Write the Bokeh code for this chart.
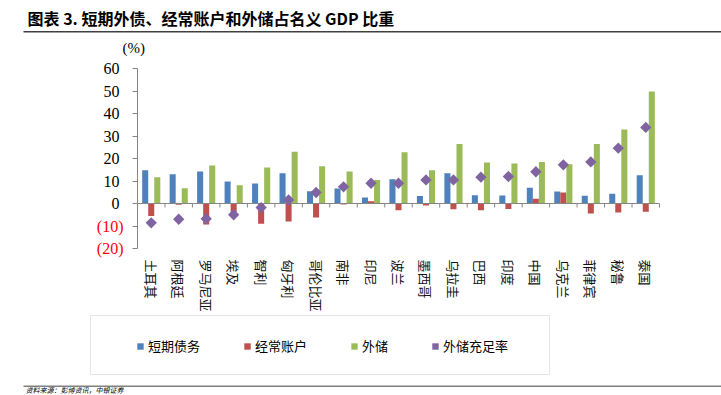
import math
from bokeh.plotting import figure
from bokeh.models import (Range1d, FixedTicker, Label, Legend, LegendItem,
                          BoxAnnotation, ColumnDataSource, LinearAxis)
from bokeh.embed import file_html
from bokeh.resources import INLINE

# ---------------- data ----------------
countries = ["土耳其", "阿根廷", "罗马尼亚", "埃及", "智利", "匈牙利", "哥伦比亚", "南非",
             "印尼", "波兰", "墨西哥", "乌拉圭", "巴西", "印度", "中国", "乌克兰",
             "菲律宾", "秘鲁", "泰国"]
short_debt = [14.8, 13.0, 14.2, 9.8, 8.9, 13.5, 5.5, 6.7, 2.7, 10.8,
              3.3, 13.5, 3.7, 3.6, 7.0, 5.3, 3.4, 4.3, 12.6]
current_acct = [-5.5, -0.5, -9.3, -4.0, -9.0, -8.0, -6.2, -0.4, 1.0, -3.0,
                -0.9, -2.5, -3.0, -2.4, 2.1, 4.9, -4.4, -4.0, -3.7]
reserves = [11.7, 6.8, 16.9, 8.1, 16.0, 23.0, 16.6, 14.2, 10.4, 22.8,
            14.8, 26.5, 18.2, 17.8, 18.5, 17.5, 26.4, 32.9, 49.8]
adequacy = [-8.6, -7.0, -6.8, -5.0, -1.8, 1.6, 4.9, 7.4, 9.0, 9.0,
            10.5, 10.5, 11.7, 12.0, 14.1, 17.2, 18.5, 24.6, 33.8]
series_names = ["短期债务", "经常账户", "外储", "外储充足率"]
series_colors = ["#4F81BD", "#C0504D", "#9BBB59", "#8064A2"]
y_min, y_max = -20, 60
y_ticks = [-20, -10, 0, 10, 20, 30, 40, 50, 60]
neg_ticks = [-10, -20]
neg_tick_labels = ["(10)", "(20)"]
unit_label = "(%)"
title_text = "图表 3. 短期外债、经常账户和外储占名义 GDP 比重"
source_text = "资料来源：彭博资讯，中银证券"

# ---------------- layout (pixels) ----------------
W, H = 721, 395
FL, FR, FT, FB = 137, 659, 68, 248      # plot-area edges in px
n = len(countries)
pxu_x = (FR - FL) / n
pxu_y = (FB - FT) / (y_max - y_min)
x_lo, x_hi = 0.5, n + 0.5
xr = Range1d(x_lo - FL / pxu_x, x_hi + (W - FR) / pxu_x)
yr = Range1d(y_min - (H - FB) / pxu_y, y_max + FT / pxu_y)

def sx(px):          # canvas px -> screen units (frame == canvas)
    return px

def sy(py):
    return H - py

idx = list(range(1, n + 1))
BW = 0.22
OFF = 0.22
src = ColumnDataSource(dict(
    xb=[i - OFF for i in idx], xr=idx, xg=[i + OFF for i in idx], xc=idx,
    short_debt=short_debt, current_acct=current_acct, reserves=reserves, adequacy=adequacy))

p = figure(width=W, height=H, output_backend="svg", toolbar_location=None,
           x_range=xr, y_range=yr, x_axis_location=None, y_axis_location=None,
           min_border=0, min_border_left=0, min_border_right=0,
           min_border_top=0, min_border_bottom=0)
p.outline_line_color = None
p.background_fill_color = "white"
p.border_fill_color = "white"
p.grid.visible = False

AX = "#868686"
r_blue = p.vbar(x="xb", top="short_debt", bottom=0, width=BW, source=src,
                fill_color=series_colors[0], line_color=None)
r_red = p.vbar(x="xr", top="current_acct", bottom=0, width=BW, source=src,
               fill_color=series_colors[1], line_color=None)
r_green = p.vbar(x="xg", top="reserves", bottom=0, width=BW, source=src,
                 fill_color=series_colors[2], line_color=None)

# zero line with category boundary ticks
p.segment(x0=[x_lo], x1=[x_hi], y0=[0], y1=[0], line_color=AX, line_width=1)
bounds = [i + 0.5 for i in range(0, n + 1)]
tick_len = 4 / pxu_y
p.segment(x0=bounds, x1=bounds, y0=[0] * len(bounds), y1=[-tick_len] * len(bounds),
          line_color=AX, line_width=1)

r_dia = p.scatter(x="xc", y="adequacy", source=src, marker="square", angle=math.pi / 4,
                  size=8, fill_color=series_colors[3], line_color=None)

# legend swatches: helper renderers placed outside the visible ranges
off_x = xr.start - 50
off_y = yr.start - 50
sw = []
for k in range(4):
    sw.append(p.scatter(x=[off_x], y=[off_y], marker="square",
                        angle=(math.pi / 4 if k == 3 else 0), size=6,
                        fill_color=series_colors[k], line_color=None))

# value axis
yax = LinearAxis(fixed_location=x_lo, bounds=(y_min, y_max),
                 ticker=FixedTicker(ticks=y_ticks))
yax.major_label_overrides = {t: "" for t in neg_ticks}
yax.axis_line_color = AX
yax.major_tick_line_color = AX
yax.major_tick_out = 5
yax.major_tick_in = 0
yax.minor_tick_line_color = None
yax.major_label_standoff = 13
yax.major_label_text_font = "Liberation Serif"
yax.major_label_text_font_size = "16px"
yax.major_label_text_color = "black"
p.add_layout(yax, "left")

# category axis
xax = LinearAxis(fixed_location=y_min, bounds=(x_lo, x_hi),
                 ticker=FixedTicker(ticks=idx))
xax.major_label_overrides = {i: c for i, c in zip(idx, countries)}
xax.major_label_orientation = "vertical"
xax.axis_line_color = None
xax.major_tick_line_color = None
xax.minor_tick_line_color = None
xax.major_label_standoff = 5
xax.major_label_text_font = "Noto Sans CJK SC"
xax.major_label_text_font_size = "13px"
xax.major_label_text_color = "#111111"
p.add_layout(xax, "below")

for t, lab in zip(neg_ticks, neg_tick_labels):
    p.add_layout(Label(x=sx(123), y=t, x_units="screen", y_units="data", text=lab,
                       text_align="right", text_baseline="middle", text_color="red",
                       text_font="Liberation Serif", text_font_size="16px"))

p.add_layout(Label(x=sx(122), y=sy(47), x_units="screen", y_units="screen", text=unit_label,
                   text_align="left", text_baseline="middle", text_color="black",
                   text_font="Liberation Serif", text_font_size="15px"))

# title, rules, source
p.add_layout(Label(x=sx(27), y=sy(17), x_units="screen", y_units="screen", text=title_text,
                   text_align="left", text_baseline="middle", text_color="black",
                   text_font="Noto Sans CJK SC", text_font_style="bold",
                   text_font_size="16px"))
p.add_layout(BoxAnnotation(left=sx(23), right=sx(W), top=sy(30.5), bottom=sy(32),
                           left_units="screen", right_units="screen",
                           top_units="screen", bottom_units="screen",
                           fill_color="#404040", fill_alpha=1, line_color=None))
p.add_layout(BoxAnnotation(left=sx(23), right=sx(W), top=sy(385), bottom=sy(386.5),
                           left_units="screen", right_units="screen",
                           top_units="screen", bottom_units="screen",
                           fill_color="#808080", fill_alpha=1, line_color=None))
p.add_layout(Label(x=sx(25), y=sy(394), x_units="screen", y_units="screen", text=source_text,
                   text_align="left", text_baseline="bottom", text_color="black",
                   text_font="Noto Sans CJK SC", text_font_style="italic",
                   text_font_size="7px"))

# legend box
p.add_layout(BoxAnnotation(left=sx(90), right=sx(549), top=sy(315), bottom=sy(374),
                           left_units="screen", right_units="screen",
                           top_units="screen", bottom_units="screen",
                           fill_alpha=0, line_color="#A6A6A6", line_width=1))

legend = Legend(items=[LegendItem(label=series_names[k], renderers=[sw[k]]) for k in range(4)],
                orientation="horizontal", location=(sx(132), sy(355)),
                padding=0, margin=0, spacing=39, label_standoff=0,
                glyph_width=16, glyph_height=16, label_height=14,
                border_line_color=None, background_fill_alpha=0,
                label_text_font="Noto Sans CJK SC", label_text_font_size="13px",
                label_text_color="black")
p.add_layout(legend, "center")

open("out.html", "w").write(file_html(p, INLINE))
